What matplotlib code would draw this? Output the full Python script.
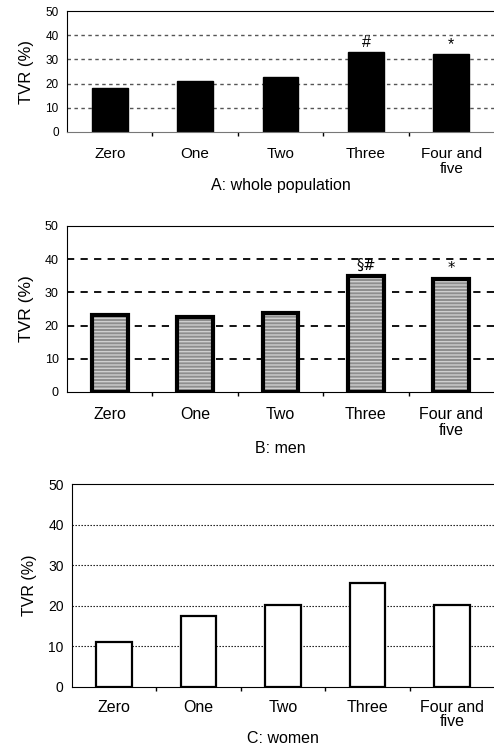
import matplotlib
matplotlib.use("Agg")
import matplotlib.pyplot as plt
import numpy as np

plt.rcParams['font.family'] = ['Liberation Sans', 'DejaVu Sans']

categories = ["Zero", "One", "Two", "Three", "Four and\nfive"]
whole = [18.1, 21.2, 22.6, 33.2, 32.3]
men = [23.3, 22.7, 23.7, 35.0, 34.1]
women = [11.2, 17.5, 20.3, 25.5, 20.1]
yticks = [0, 10, 20, 30, 40, 50]
marks_whole = ["", "", "", "#", "*"]
marks_men = ["", "", "", "§#", "*"]

W, H = 494, 749
fig = plt.figure(figsize=(W / 100, H / 100), dpi=100)

def px_axes(left, top, right, bottom):
    return fig.add_axes([left / W, 1 - bottom / H, (right - left) / W, (bottom - top) / H])

axA = px_axes(67, 11, 494, 132)
axB = px_axes(67, 226, 494, 392)
axC = px_axes(72, 484, 494, 687)

x = np.arange(len(categories))
bw = 0.42

def style(ax, gridkw, ticksize, ysize, labsize, xlabel, labelpad, ls, tpad=11, bottomcolor='black'):
    ax.set_xlim(-0.5, len(categories) - 0.5)
    ax.set_ylim(0, 50)
    ax.set_yticks(yticks)
    ax.tick_params(axis='y', length=0, pad=6, labelsize=ysize)
    ax.set_xticks(x)
    ax.set_xticklabels(categories, fontsize=ticksize, linespacing=ls)
    ax.set_xticks(np.arange(0.5, len(categories) - 1, 1.0), minor=True)
    ax.tick_params(axis='x', which='major', length=0, pad=tpad)
    ax.tick_params(axis='x', which='minor', length=3, direction='out', width=1)
    ax.spines['right'].set_visible(False)
    ax.spines['bottom'].set_color(bottomcolor)
    for v in yticks[1:-1]:
        ax.axhline(v, zorder=0.5, **gridkw)
    ax.set_ylabel("TVR (%)", fontsize=labsize, labelpad=8)
    ax.set_xlabel(xlabel, fontsize=11.5, labelpad=labelpad)

# Panel A
axA.bar(x, whole, bw, color='black', edgecolor='black', zorder=2)
style(axA, dict(color='#555555', lw=1.0, ls=(0, (2.5, 2.5))), 11, 8.5, 12,
      "A: whole population", 1, 1.1, bottomcolor='#777777')
for xi, v, m in zip(x, whole, marks_whole):
    if m:
        axA.text(xi, v + 0.6, m, ha='center', va='bottom', fontsize=11.5)

# Panel B
axB.bar(x, men, bw, color='#8e8e8e', edgecolor='#cfcfcf', linewidth=0, hatch='-----', zorder=2)
axB.bar(x, men, bw, fill=False, edgecolor='black', linewidth=3, zorder=3)
style(axB, dict(color='black', lw=1.3, ls=(0, (4, 3.5))), 11.5, 9, 12.5, "B: men", 2, 1.1)
for xi, v, m in zip(x, men, marks_men):
    if m:
        axB.text(xi, v + 0.8, m, ha='center', va='bottom', fontsize=10.5,
                 family=['DejaVu Sans'])

# Panel C
axC.bar(x, women, bw, color='white', edgecolor='black', linewidth=1.6, zorder=2)
style(axC, dict(color='black', lw=0.8, ls=(0, (1.2, 1.5))), 11.5, 10, 11.5, "C: women", 1.5, 0.95, tpad=9)

fig.savefig("out.png", dpi=100)
